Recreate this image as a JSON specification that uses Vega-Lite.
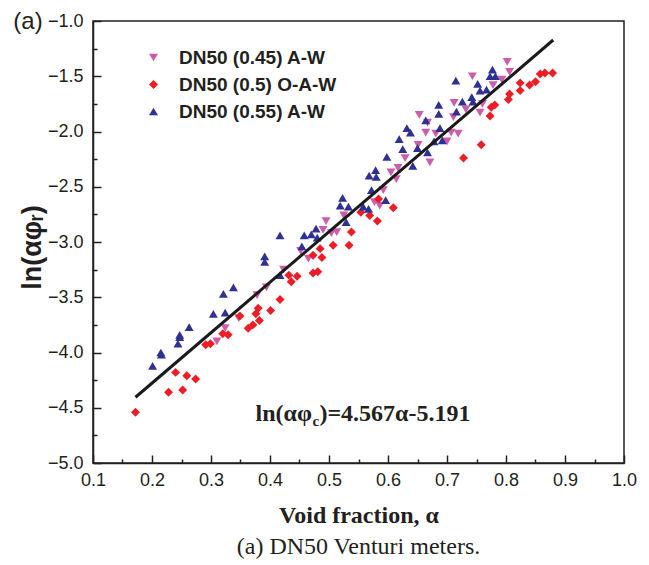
{
  "$schema": "https://vega.github.io/schema/vega-lite/v6.json",
  "width": 531,
  "height": 442,
  "autosize": {"type": "none"},
  "padding": {"left": 93, "top": 21, "right": 25, "bottom": 102},
  "background": "white",
  "config": {
    "view": {"stroke": "#231f20", "strokeWidth": 1.5},
    "axis": {"grid": false, "domainColor": "#231f20", "domainWidth": 1.5, "tickColor": "#231f20", "tickWidth": 1.5, "labelColor": "#231f20", "labelFont": "Liberation Sans", "labelFontSize": 18, "titleColor": "#231f20"}
  },
  "title": {"text": "(a) DN50 Venturi meters.", "orient": "bottom", "font": "Liberation Serif", "fontSize": 24, "fontWeight": "normal", "color": "#231f20", "offset": 8},
  "resolve": {"axis": {"x": "independent", "y": "independent"}},
  "layer": [
    {
      "data": {"values": [
        {"series": "DN50 (0.45) A-W", "alpha": 0.310, "ln": -3.90},
        {"series": "DN50 (0.45) A-W", "alpha": 0.324, "ln": -3.78},
        {"series": "DN50 (0.45) A-W", "alpha": 0.347, "ln": -3.69},
        {"series": "DN50 (0.45) A-W", "alpha": 0.378, "ln": -3.48},
        {"series": "DN50 (0.45) A-W", "alpha": 0.394, "ln": -3.41},
        {"series": "DN50 (0.45) A-W", "alpha": 0.423, "ln": -3.25},
        {"series": "DN50 (0.45) A-W", "alpha": 0.452, "ln": -3.08},
        {"series": "DN50 (0.45) A-W", "alpha": 0.465, "ln": -3.15},
        {"series": "DN50 (0.45) A-W", "alpha": 0.490, "ln": -2.89},
        {"series": "DN50 (0.45) A-W", "alpha": 0.495, "ln": -2.81},
        {"series": "DN50 (0.45) A-W", "alpha": 0.504, "ln": -2.92},
        {"series": "DN50 (0.45) A-W", "alpha": 0.513, "ln": -2.91},
        {"series": "DN50 (0.45) A-W", "alpha": 0.525, "ln": -2.76},
        {"series": "DN50 (0.45) A-W", "alpha": 0.577, "ln": -2.64},
        {"series": "DN50 (0.45) A-W", "alpha": 0.586, "ln": -2.67},
        {"series": "DN50 (0.45) A-W", "alpha": 0.592, "ln": -2.53},
        {"series": "DN50 (0.45) A-W", "alpha": 0.605, "ln": -2.37},
        {"series": "DN50 (0.45) A-W", "alpha": 0.614, "ln": -2.43},
        {"series": "DN50 (0.45) A-W", "alpha": 0.617, "ln": -2.33},
        {"series": "DN50 (0.45) A-W", "alpha": 0.629, "ln": -2.24},
        {"series": "DN50 (0.45) A-W", "alpha": 0.651, "ln": -2.12},
        {"series": "DN50 (0.45) A-W", "alpha": 0.671, "ln": -2.28},
        {"series": "DN50 (0.45) A-W", "alpha": 0.664, "ln": -2.01},
        {"series": "DN50 (0.45) A-W", "alpha": 0.667, "ln": -1.92},
        {"series": "DN50 (0.45) A-W", "alpha": 0.653, "ln": -1.85},
        {"series": "DN50 (0.45) A-W", "alpha": 0.681, "ln": -2.02},
        {"series": "DN50 (0.45) A-W", "alpha": 0.700, "ln": -2.09},
        {"series": "DN50 (0.45) A-W", "alpha": 0.707, "ln": -2.01},
        {"series": "DN50 (0.45) A-W", "alpha": 0.719, "ln": -2.02},
        {"series": "DN50 (0.45) A-W", "alpha": 0.711, "ln": -1.87},
        {"series": "DN50 (0.45) A-W", "alpha": 0.712, "ln": -1.74},
        {"series": "DN50 (0.45) A-W", "alpha": 0.732, "ln": -1.80},
        {"series": "DN50 (0.45) A-W", "alpha": 0.743, "ln": -1.50},
        {"series": "DN50 (0.45) A-W", "alpha": 0.756, "ln": -1.83},
        {"series": "DN50 (0.45) A-W", "alpha": 0.760, "ln": -1.75},
        {"series": "DN50 (0.45) A-W", "alpha": 0.778, "ln": -1.58},
        {"series": "DN50 (0.45) A-W", "alpha": 0.793, "ln": -1.53},
        {"series": "DN50 (0.45) A-W", "alpha": 0.802, "ln": -1.37},
        {"series": "DN50 (0.45) A-W", "alpha": 0.806, "ln": -1.46},
        {"series": "DN50 (0.5) O-A-W", "alpha": 0.172, "ln": -4.54},
        {"series": "DN50 (0.5) O-A-W", "alpha": 0.240, "ln": -4.18},
        {"series": "DN50 (0.5) O-A-W", "alpha": 0.228, "ln": -4.36},
        {"series": "DN50 (0.5) O-A-W", "alpha": 0.252, "ln": -4.34},
        {"series": "DN50 (0.5) O-A-W", "alpha": 0.259, "ln": -4.21},
        {"series": "DN50 (0.5) O-A-W", "alpha": 0.274, "ln": -4.24},
        {"series": "DN50 (0.5) O-A-W", "alpha": 0.291, "ln": -3.93},
        {"series": "DN50 (0.5) O-A-W", "alpha": 0.299, "ln": -3.92},
        {"series": "DN50 (0.5) O-A-W", "alpha": 0.320, "ln": -3.83},
        {"series": "DN50 (0.5) O-A-W", "alpha": 0.329, "ln": -3.84},
        {"series": "DN50 (0.5) O-A-W", "alpha": 0.349, "ln": -3.67},
        {"series": "DN50 (0.5) O-A-W", "alpha": 0.363, "ln": -3.78},
        {"series": "DN50 (0.5) O-A-W", "alpha": 0.371, "ln": -3.75},
        {"series": "DN50 (0.5) O-A-W", "alpha": 0.376, "ln": -3.65},
        {"series": "DN50 (0.5) O-A-W", "alpha": 0.380, "ln": -3.60},
        {"series": "DN50 (0.5) O-A-W", "alpha": 0.382, "ln": -3.71},
        {"series": "DN50 (0.5) O-A-W", "alpha": 0.401, "ln": -3.62},
        {"series": "DN50 (0.5) O-A-W", "alpha": 0.417, "ln": -3.52},
        {"series": "DN50 (0.5) O-A-W", "alpha": 0.432, "ln": -3.30},
        {"series": "DN50 (0.5) O-A-W", "alpha": 0.436, "ln": -3.36},
        {"series": "DN50 (0.5) O-A-W", "alpha": 0.446, "ln": -3.31},
        {"series": "DN50 (0.5) O-A-W", "alpha": 0.473, "ln": -3.28},
        {"series": "DN50 (0.5) O-A-W", "alpha": 0.481, "ln": -3.27},
        {"series": "DN50 (0.5) O-A-W", "alpha": 0.473, "ln": -3.12},
        {"series": "DN50 (0.5) O-A-W", "alpha": 0.485, "ln": -3.06},
        {"series": "DN50 (0.5) O-A-W", "alpha": 0.488, "ln": -3.14},
        {"series": "DN50 (0.5) O-A-W", "alpha": 0.507, "ln": -3.03},
        {"series": "DN50 (0.5) O-A-W", "alpha": 0.534, "ln": -3.03},
        {"series": "DN50 (0.5) O-A-W", "alpha": 0.538, "ln": -2.91},
        {"series": "DN50 (0.5) O-A-W", "alpha": 0.554, "ln": -2.73},
        {"series": "DN50 (0.5) O-A-W", "alpha": 0.569, "ln": -2.76},
        {"series": "DN50 (0.5) O-A-W", "alpha": 0.582, "ln": -2.81},
        {"series": "DN50 (0.5) O-A-W", "alpha": 0.584, "ln": -2.61},
        {"series": "DN50 (0.5) O-A-W", "alpha": 0.609, "ln": -2.69},
        {"series": "DN50 (0.5) O-A-W", "alpha": 0.728, "ln": -2.24},
        {"series": "DN50 (0.5) O-A-W", "alpha": 0.758, "ln": -2.12},
        {"series": "DN50 (0.5) O-A-W", "alpha": 0.773, "ln": -1.86},
        {"series": "DN50 (0.5) O-A-W", "alpha": 0.775, "ln": -1.78},
        {"series": "DN50 (0.5) O-A-W", "alpha": 0.781, "ln": -1.76},
        {"series": "DN50 (0.5) O-A-W", "alpha": 0.804, "ln": -1.71},
        {"series": "DN50 (0.5) O-A-W", "alpha": 0.806, "ln": -1.66},
        {"series": "DN50 (0.5) O-A-W", "alpha": 0.824, "ln": -1.63},
        {"series": "DN50 (0.5) O-A-W", "alpha": 0.824, "ln": -1.56},
        {"series": "DN50 (0.5) O-A-W", "alpha": 0.840, "ln": -1.58},
        {"series": "DN50 (0.5) O-A-W", "alpha": 0.850, "ln": -1.55},
        {"series": "DN50 (0.5) O-A-W", "alpha": 0.858, "ln": -1.48},
        {"series": "DN50 (0.5) O-A-W", "alpha": 0.866, "ln": -1.47},
        {"series": "DN50 (0.5) O-A-W", "alpha": 0.879, "ln": -1.47},
        {"series": "DN50 (0.55) A-W", "alpha": 0.201, "ln": -4.12},
        {"series": "DN50 (0.55) A-W", "alpha": 0.215, "ln": -4.00},
        {"series": "DN50 (0.55) A-W", "alpha": 0.216, "ln": -4.02},
        {"series": "DN50 (0.55) A-W", "alpha": 0.244, "ln": -3.92},
        {"series": "DN50 (0.55) A-W", "alpha": 0.247, "ln": -3.84},
        {"series": "DN50 (0.55) A-W", "alpha": 0.247, "ln": -3.86},
        {"series": "DN50 (0.55) A-W", "alpha": 0.263, "ln": -3.77},
        {"series": "DN50 (0.55) A-W", "alpha": 0.304, "ln": -3.65},
        {"series": "DN50 (0.55) A-W", "alpha": 0.321, "ln": -3.47},
        {"series": "DN50 (0.55) A-W", "alpha": 0.324, "ln": -3.64},
        {"series": "DN50 (0.55) A-W", "alpha": 0.338, "ln": -3.41},
        {"series": "DN50 (0.55) A-W", "alpha": 0.391, "ln": -3.13},
        {"series": "DN50 (0.55) A-W", "alpha": 0.391, "ln": -3.18},
        {"series": "DN50 (0.55) A-W", "alpha": 0.417, "ln": -3.30},
        {"series": "DN50 (0.55) A-W", "alpha": 0.417, "ln": -2.94},
        {"series": "DN50 (0.55) A-W", "alpha": 0.454, "ln": -3.04},
        {"series": "DN50 (0.55) A-W", "alpha": 0.458, "ln": -2.94},
        {"series": "DN50 (0.55) A-W", "alpha": 0.470, "ln": -2.93},
        {"series": "DN50 (0.55) A-W", "alpha": 0.478, "ln": -2.88},
        {"series": "DN50 (0.55) A-W", "alpha": 0.480, "ln": -2.96},
        {"series": "DN50 (0.55) A-W", "alpha": 0.523, "ln": -2.60},
        {"series": "DN50 (0.55) A-W", "alpha": 0.519, "ln": -2.67},
        {"series": "DN50 (0.55) A-W", "alpha": 0.533, "ln": -2.68},
        {"series": "DN50 (0.55) A-W", "alpha": 0.529, "ln": -2.82},
        {"series": "DN50 (0.55) A-W", "alpha": 0.558, "ln": -2.68},
        {"series": "DN50 (0.55) A-W", "alpha": 0.567, "ln": -2.70},
        {"series": "DN50 (0.55) A-W", "alpha": 0.568, "ln": -2.40},
        {"series": "DN50 (0.55) A-W", "alpha": 0.579, "ln": -2.35},
        {"series": "DN50 (0.55) A-W", "alpha": 0.580, "ln": -2.41},
        {"series": "DN50 (0.55) A-W", "alpha": 0.572, "ln": -2.53},
        {"series": "DN50 (0.55) A-W", "alpha": 0.596, "ln": -2.62},
        {"series": "DN50 (0.55) A-W", "alpha": 0.598, "ln": -2.23},
        {"series": "DN50 (0.55) A-W", "alpha": 0.619, "ln": -2.07},
        {"series": "DN50 (0.55) A-W", "alpha": 0.625, "ln": -2.16},
        {"series": "DN50 (0.55) A-W", "alpha": 0.632, "ln": -1.97},
        {"series": "DN50 (0.55) A-W", "alpha": 0.638, "ln": -2.01},
        {"series": "DN50 (0.55) A-W", "alpha": 0.642, "ln": -2.31},
        {"series": "DN50 (0.55) A-W", "alpha": 0.650, "ln": -2.15},
        {"series": "DN50 (0.55) A-W", "alpha": 0.667, "ln": -2.19},
        {"series": "DN50 (0.55) A-W", "alpha": 0.664, "ln": -1.90},
        {"series": "DN50 (0.55) A-W", "alpha": 0.686, "ln": -1.76},
        {"series": "DN50 (0.55) A-W", "alpha": 0.686, "ln": -1.84},
        {"series": "DN50 (0.55) A-W", "alpha": 0.688, "ln": -1.97},
        {"series": "DN50 (0.55) A-W", "alpha": 0.678, "ln": -2.09},
        {"series": "DN50 (0.55) A-W", "alpha": 0.692, "ln": -2.08},
        {"series": "DN50 (0.55) A-W", "alpha": 0.715, "ln": -1.54},
        {"series": "DN50 (0.55) A-W", "alpha": 0.716, "ln": -1.82},
        {"series": "DN50 (0.55) A-W", "alpha": 0.726, "ln": -1.73},
        {"series": "DN50 (0.55) A-W", "alpha": 0.742, "ln": -1.69},
        {"series": "DN50 (0.55) A-W", "alpha": 0.744, "ln": -1.73},
        {"series": "DN50 (0.55) A-W", "alpha": 0.752, "ln": -1.57},
        {"series": "DN50 (0.55) A-W", "alpha": 0.756, "ln": -1.63},
        {"series": "DN50 (0.55) A-W", "alpha": 0.767, "ln": -1.62},
        {"series": "DN50 (0.55) A-W", "alpha": 0.777, "ln": -1.44},
        {"series": "DN50 (0.55) A-W", "alpha": 0.773, "ln": -1.50},
        {"series": "DN50 (0.55) A-W", "alpha": 0.782, "ln": -1.50}
      ]},
      "mark": {"type": "point", "filled": true, "opacity": 1, "strokeWidth": 0, "size": 80},
      "encoding": {
        "x": {"field": "alpha", "type": "quantitative",
          "scale": {"domain": [0.1, 1.0], "nice": false, "zero": false},
          "axis": {"orient": "bottom", "values": [0.1, 0.2, 0.3, 0.4, 0.5, 0.6, 0.7, 0.8, 0.9, 1.0], "format": ".1f", "tickSize": -8, "labelPadding": 16, "labelFlush": false, "labelOverlap": false,
            "title": "Void fraction, α", "titleFont": "Liberation Serif", "titleFontSize": 24, "titleFontWeight": "bold", "titleBaseline": "alphabetic", "titleY": 59}},
        "y": {"field": "ln", "type": "quantitative",
          "scale": {"domain": [-5, -1], "nice": false, "zero": false},
          "axis": {"orient": "left", "values": [-5.0, -4.5, -4.0, -3.5, -3.0, -2.5, -2.0, -1.5, -1.0], "format": ".1f", "tickSize": -8, "labelPadding": 18, "labelFlush": false, "labelOverlap": false,
            "title": "ln(αφᵣ)", "titleFont": "Liberation Sans", "titleFontSize": 27, "titleFontWeight": "bold", "titleAngle": 270, "titleBaseline": "bottom", "titleAlign": "center", "titleX": -47, "titleY": 226}},
        "color": {"field": "series", "type": "nominal",
          "scale": {"domain": ["DN50 (0.45) A-W", "DN50 (0.5) O-A-W", "DN50 (0.55) A-W"], "range": ["#cf5bab", "#ee1d25", "#2e3192"]},
          "legend": {"title": null, "orient": "none", "legendX": 51, "legendY": 27, "direction": "vertical", "labelFont": "Liberation Sans", "labelFontSize": 19, "labelFontWeight": "bold", "labelColor": "#231f20", "symbolSize": 80, "labelOffset": 16, "rowPadding": 7, "padding": 0, "symbolStrokeWidth": 0, "labelLimit": 300}},
        "shape": {"field": "series", "type": "nominal",
          "scale": {"domain": ["DN50 (0.45) A-W", "DN50 (0.5) O-A-W", "DN50 (0.55) A-W"], "range": ["triangle-down", "diamond", "triangle-up"]},
          "legend": {"title": null, "orient": "none", "legendX": 51, "legendY": 27, "direction": "vertical", "labelFont": "Liberation Sans", "labelFontSize": 19, "labelFontWeight": "bold", "labelColor": "#231f20", "symbolSize": 80, "labelOffset": 16, "rowPadding": 7, "padding": 0, "symbolStrokeWidth": 0, "labelLimit": 300}}
      }
    },
    {
      "data": {"values": [{"alpha": 0.172, "ln": -4.405}, {"alpha": 0.880, "ln": -1.172}]},
      "mark": {"type": "line", "color": "#1a1a1a", "strokeWidth": 3},
      "encoding": {
        "x": {"field": "alpha", "type": "quantitative",
          "axis": {"orient": "bottom", "values": [0.15, 0.25, 0.35, 0.45, 0.55, 0.65, 0.75, 0.85, 0.95], "labels": false, "domain": false, "tickSize": -4, "title": null}},
        "y": {"field": "ln", "type": "quantitative",
          "axis": {"orient": "left", "values": [-4.75, -4.25, -3.75, -3.25, -2.75, -2.25, -1.75, -1.25], "labels": false, "domain": false, "tickSize": -4, "title": null}}
      }
    },
    {
      "data": {"values": [{}]},
      "layer": [
        {"mark": {"type": "text", "text": "(a)", "font": "Liberation Sans", "fontSize": 24, "color": "#231f20", "align": "center", "baseline": "middle", "dx": -65, "dy": 1},
         "encoding": {"x": {"datum": 0.1, "type": "quantitative", "axis": null}, "y": {"datum": -1.0, "type": "quantitative", "axis": null}}},
        {"mark": {"type": "text", "text": "ln(αφ", "font": "Liberation Serif", "fontSize": 24, "fontWeight": "bold", "color": "#231f20", "align": "right", "baseline": "alphabetic"},
         "encoding": {"x": {"datum": 0.471, "type": "quantitative", "axis": null}, "y": {"datum": -4.62, "type": "quantitative", "axis": null}}},
        {"mark": {"type": "text", "text": "c", "font": "Liberation Serif", "fontSize": 15, "fontWeight": "bold", "color": "#231f20", "align": "left", "baseline": "alphabetic", "dx": 0.5, "dy": 5},
         "encoding": {"x": {"datum": 0.471, "type": "quantitative", "axis": null}, "y": {"datum": -4.62, "type": "quantitative", "axis": null}}},
        {"mark": {"type": "text", "text": ")=4.567α-5.191", "font": "Liberation Serif", "fontSize": 24, "fontWeight": "bold", "color": "#231f20", "align": "left", "baseline": "alphabetic", "dx": 7.5},
         "encoding": {"x": {"datum": 0.471, "type": "quantitative", "axis": null}, "y": {"datum": -4.62, "type": "quantitative", "axis": null}}}
      ]
    }
  ]
}
